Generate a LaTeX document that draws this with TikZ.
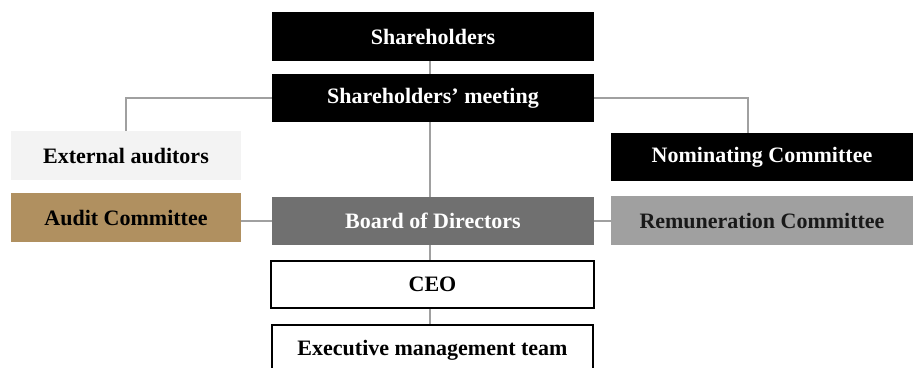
\documentclass[tikz,border=0pt]{standalone}
\usepackage{fontspec}
\setmainfont{Liberation Serif}
\definecolor{auditgold}{HTML}{B09060}
\definecolor{boardgray}{HTML}{707070}
\definecolor{remungray}{HTML}{A0A0A0}
\definecolor{paleback}{HTML}{F3F3F3}
\definecolor{linkgray}{HTML}{A0A0A0}
\begin{document}
\begin{tikzpicture}[x=1pt, y=-1pt,
box/.style={rectangle, inner sep=0pt, font=\fontsize{22}{26}\selectfont\bfseries},
darkbox/.style={box, fill=black, text=white},
widebox/.style={minimum width=322pt, minimum height=49pt},
sidebox/.style={minimum width=230pt, minimum height=49pt},
rightbox/.style={minimum width=302pt, minimum height=49pt},
link/.style={draw=linkgray, line width=1.3pt},
]
\useasboundingbox (0,0) rectangle (913,367);

%Nodes
\node[darkbox, widebox] (shareholders) at (433,36.5) {Shareholders};
\node[darkbox, widebox, minimum height=48pt] (meeting) at (433,98) {Shareholders’ meeting};
\node[box, sidebox, fill=paleback] (auditors) at (126,155.5) {External auditors};
\node[box, sidebox, fill=auditgold] (audit) at (126,217.5) {Audit Committee};
\node[box, widebox, minimum height=48pt, fill=boardgray, text=white] (board) at (433,221) {Board of Directors};
\node[darkbox, rightbox, minimum height=48pt] (nominating) at (762,157) {Nominating Committee};
\node[box, rightbox, fill=remungray, text=black!90] (remuneration) at (762,220.5) {Remuneration Committee};
\node[box, draw=black, line width=2.2pt, minimum width=323pt, minimum height=47pt, fill=white] (ceo) at (432.5,284.5) {CEO};
\node[box, draw=black, line width=1.1pt, minimum width=321pt, minimum height=50pt, fill=white] (executive) at (432.5,350) {Executive management team};

%Lines
\draw[link] ([xshift=-3pt]shareholders.south) -- ([xshift=-3pt]meeting.north);
\draw[link] (meeting.west) -| (auditors.north);
\draw[link] (meeting.east) -| ([xshift=-14pt]nominating.north);
\draw[link] ([xshift=-3pt]meeting.south) -- ([xshift=-3pt]board.north);
\draw[link] (board.west) -- (board.west -| audit.east);
\draw[link] (board.east) -- (board.east -| remuneration.west);
\draw[link] ([xshift=-3pt]board.south) -- ([xshift=-2.5pt]ceo.north);
\draw[link] ([xshift=-2.5pt]ceo.south) -- ([xshift=-2.5pt]executive.north);
\end{tikzpicture}
\end{document}
